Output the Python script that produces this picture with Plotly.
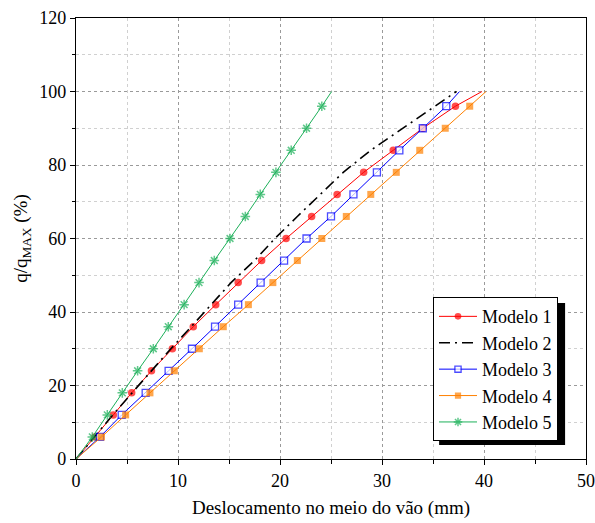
import plotly.graph_objects as go

load_pct = [0, 6, 12, 18, 24, 30, 36, 42, 48, 54, 60, 66, 72, 78, 84, 90, 96, 100]

modelo1 = [0, 1.86, 3.66, 5.46, 7.4, 9.45, 11.5, 13.7, 15.9, 18.2, 20.6, 23.1, 25.6, 28.2, 31.1, 34.0, 37.2, 39.8]
modelo2 = [0, 1.8, 3.6, 5.5, 7.4, 9.3, 11.3, 13.3, 15.2, 17.5, 19.5, 21.7, 24.0, 26.2, 28.9, 32.0, 35.2, 37.3]
modelo3 = [0, 2.35, 4.48, 6.83, 9.08, 11.37, 13.63, 15.9, 18.1, 20.4, 22.6, 25.0, 27.2, 29.5, 31.7, 34.0, 36.3, 37.6]
modelo4 = [0, 2.5, 4.87, 7.25, 9.64, 12.09, 14.44, 16.9, 19.3, 21.7, 24.1, 26.5, 28.9, 31.4, 33.7, 36.2, 38.6, 40.2]
modelo5 = [0, 1.6, 3.07, 4.54, 6.04, 7.58, 9.05, 10.6, 12.06, 13.56, 15.1, 16.6, 18.07, 19.6, 21.1, 22.6, 24.1, 25.06]

names = ["Modelo 1", "Modelo 2", "Modelo 3", "Modelo 4", "Modelo 5"]
x_ticks = [0, 10, 20, 30, 40, 50]
y_ticks = [0, 20, 40, 60, 80, 100, 120]

FONT = "Liberation Serif, Times New Roman, serif"

def sizes(n, s):
    return [0] + [s] * (n - 2) + [0]

fig = go.Figure()
n = len(load_pct)
fig.add_trace(go.Scatter(
    x=modelo1, y=load_pct, name=names[0], mode="lines+markers",
    line=dict(color="#FF0000", width=1),
    marker=dict(symbol="circle", size=sizes(n, 7.5), color="#FF0000", line=dict(width=0))))
fig.add_trace(go.Scatter(
    x=modelo2, y=load_pct, name=names[1], mode="lines",
    line=dict(color="#000000", width=1.6, dash="11px,5px,2px,5px")))
fig.add_trace(go.Scatter(
    x=modelo3, y=load_pct, name=names[2], mode="lines+markers",
    line=dict(color="#0000FF", width=1),
    marker=dict(symbol="square", size=sizes(n, 7), color="#FFFFFF", line=dict(color="#0000FF", width=1.3))))
fig.add_trace(go.Scatter(
    x=modelo4, y=load_pct, name=names[3], mode="lines+markers",
    line=dict(color="#FF8000", width=1),
    marker=dict(symbol="square", size=sizes(n, 7), color="#FF8000", line=dict(width=0))))
fig.add_trace(go.Scatter(
    x=modelo5, y=load_pct, name=names[4], mode="lines+markers",
    line=dict(color="#1DB05A", width=1),
    marker=dict(symbol="asterisk-open", size=sizes(n, 8), color="#1DB05A", line=dict(color="#1DB05A", width=1.5))))

axis_common = dict(
    showline=True, linecolor="black", linewidth=1.2, mirror=True,
    ticks="outside", ticklen=5, tickwidth=1, tickcolor="black",
    tickfont=dict(family=FONT, size=18, color="black"),
    showgrid=True, gridcolor="#9a9a9a", gridwidth=1, griddash="dot",
    zeroline=False, automargin=False,
)

fig.update_xaxes(
    range=[0, 50], tickvals=x_ticks,
    title=dict(text="Deslocamento no meio do vão (mm)", font=dict(family=FONT, size=19, color="black"), standoff=10),
    minor=dict(dtick=5, tick0=0, ticks="outside", ticklen=4, tickcolor="black", showgrid=True,
               gridcolor="#d0d0d0", griddash="dot", gridwidth=1),
    **axis_common)
fig.update_yaxes(
    range=[0, 120], tickvals=y_ticks,
    title=dict(text="q/q<sub>MAX</sub> (%)", font=dict(family=FONT, size=19, color="black"), standoff=6),
    minor=dict(dtick=10, tick0=0, ticks="outside", ticklen=3, tickcolor="black", showgrid=True,
               gridcolor="#d0d0d0", griddash="dot", gridwidth=1),
    **axis_common)

# legend shadow (paper coords)
fig.add_shape(type="rect", xref="paper", yref="paper",
              x0=0.712, x1=0.959, y0=0.032, y1=0.354,
              fillcolor="black", line=dict(width=0), layer="above")

fig.update_layout(
    width=595, height=523,
    margin=dict(l=76, r=9, t=18, b=64, autoexpand=False),
    paper_bgcolor="white", plot_bgcolor="white",
    font=dict(family=FONT, color="black"),
    legend=dict(x=0.700, y=0.367, xanchor="left", yanchor="top",
                bgcolor="white", bordercolor="black", borderwidth=1,
                font=dict(family=FONT, size=18, color="black"),
                tracegroupgap=0, itemwidth=38),
)

fig.write_html("out.html", config={"displayModeBar": False},
               post_script="document.body.style.margin='0';")
